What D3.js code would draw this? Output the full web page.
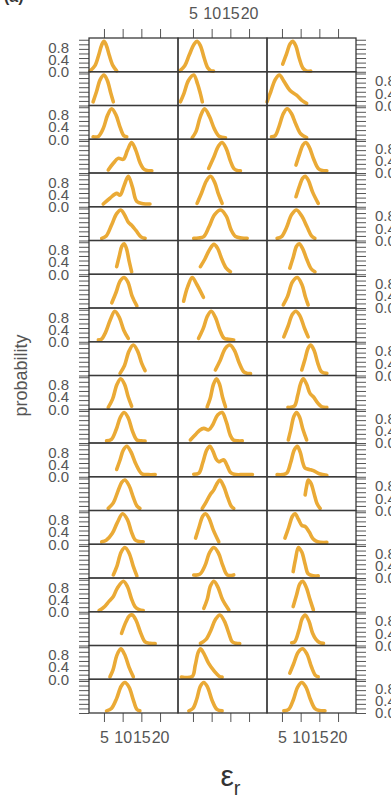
<!DOCTYPE html>
<html><head><meta charset="utf-8">
<script src="https://cdn.jsdelivr.net/npm/d3@7"></script>
<style>body{margin:0;background:#fff}svg{display:block}</style>
</head><body><svg id="c" width="391" height="797"></svg>
<script>
// ---- data ----
const xTicks = [5, 10, 15, 20];
const yTicks = [0, 0.15, 0.3, 0.45, 0.6, 0.75, 0.9, 1.05];
const yLabelTicks = [0, 0.4, 0.8];
const xDomain = [1, 24.8];
const yDomain = [0, 1.107];
const xTitle = "ε";
const xTitleSub = "r";
const yTitle = "probability";
const panelTag = "(a)";

// each entry: one row's density curve, points [epsilon_r, probability]
const col1 = [
 [[1.3,0.03],[2.6,0.2],[3.6,0.55],[4.4,0.88],[5.0,1.0],[5.6,0.88],[6.4,0.55],[7.4,0.2],[8.4,0.03]],
 [[2.1,0.12],[3.0,0.45],[4.0,0.85],[5.0,1.0],[5.9,0.82],[6.8,0.42],[7.5,0.12]],
 [[2.1,0.08],[3.5,0.09],[4.8,0.35],[6.0,0.8],[7.06,1.0],[8.2,0.8],[9.3,0.4],[10.3,0.12],[11.1,0.08]],
 [[6.15,0.1],[7.5,0.32],[8.8,0.48],[10.2,0.45],[11.3,0.75],[12.4,1.0],[13.5,0.75],[14.6,0.35],[15.5,0.15],[16.5,0.08],[17.8,0.07]],
 [[4.8,0.09],[6.6,0.28],[8.4,0.44],[9.3,0.38],[10.4,0.7],[11.5,1.0],[12.6,0.65],[13.8,0.17],[15.5,0.1],[17.3,0.09]],
 [[4.4,0.07],[5.6,0.15],[7.0,0.5],[8.4,0.88],[9.5,1.0],[10.6,0.82],[11.5,0.6],[12.4,0.5],[13.6,0.32],[14.9,0.12],[16.0,0.07]],
 [[8.4,0.25],[9.1,0.6],[9.8,0.92],[10.4,1.0],[11.0,0.85],[11.7,0.45],[12.4,0.08]],
 [[7.1,0.17],[8.2,0.5],[9.4,0.9],[10.4,1.0],[11.4,0.85],[12.5,0.4],[13.8,0.07]],
 [[3.5,0.06],[4.3,0.08],[5.4,0.3],[6.7,0.72],[7.9,1.0],[9.1,0.8],[10.3,0.38],[11.5,0.11]],
 [[9.3,0.07],[10.5,0.33],[11.7,0.8],[12.85,1.0],[14.0,0.8],[15.1,0.4],[16.0,0.16]],
 [[6.15,0.06],[7.3,0.33],[8.5,0.82],[9.5,1.0],[10.5,0.82],[11.5,0.4],[12.4,0.1]],
 [[5.7,0.07],[7.0,0.12],[8.3,0.45],[9.4,0.85],[10.4,1.0],[11.5,0.82],[12.6,0.4],[13.8,0.1],[15.0,0.07],[16.0,0.06]],
 [[8.4,0.24],[9.3,0.55],[10.2,0.88],[11.1,1.0],[12.2,0.82],[13.6,0.4],[15.1,0.1],[16.8,0.07],[18.7,0.07]],
 [[6.15,0.07],[7.5,0.25],[8.7,0.62],[9.8,0.93],[10.6,1.0],[11.7,0.82],[12.8,0.45],[13.8,0.15],[14.6,0.07]],
 [[4.4,0.08],[5.6,0.13],[7.2,0.35],[8.6,0.72],[10.0,1.0],[11.3,0.8],[12.3,0.42],[13.3,0.15],[14.4,0.09],[15.5,0.08]],
 [[7.5,0.1],[8.5,0.4],[9.6,0.85],[10.6,1.0],[11.7,0.82],[12.8,0.4],[13.8,0.07]],
 [[3.7,0.04],[5.0,0.15],[6.4,0.35],[7.5,0.5],[8.6,0.78],[10.2,1.0],[11.3,0.82],[12.3,0.45],[13.3,0.17],[14.4,0.07],[15.5,0.04]],
 [[9.7,0.4],[10.9,0.78],[11.8,0.97],[12.6,1.0],[13.6,0.82],[14.8,0.42],[16.0,0.12],[17.3,0.07],[18.7,0.06]],
 [[6.6,0.08],[7.4,0.3],[8.5,0.8],[9.5,1.0],[10.5,0.82],[11.7,0.4],[12.85,0.08]],
 [[5.7,0.07],[7.0,0.15],[8.4,0.48],[9.6,0.88],[10.6,1.0],[11.7,0.85],[12.8,0.45],[13.8,0.12],[14.6,0.07]]
];
const col2 = [
 [[1.4,0.02],[2.8,0.2],[4.0,0.55],[5.3,0.9],[6.1,1.0],[7.0,0.85],[8.0,0.45],[9.0,0.12],[9.8,0.03],[10.5,0.02]],
 [[1.65,0.12],[2.6,0.4],[3.8,0.82],[5.2,1.0],[6.2,0.72],[7.0,0.38],[7.5,0.12]],
 [[4.8,0.05],[5.8,0.25],[7.0,0.75],[8.1,1.0],[9.4,0.75],[10.7,0.35],[12.0,0.1],[13.7,0.05]],
 [[9.2,0.15],[10.5,0.5],[11.8,0.88],[12.8,1.0],[13.9,0.8],[15.0,0.4],[15.9,0.15],[16.8,0.08],[17.7,0.07]],
 [[6.1,0.11],[7.3,0.45],[8.6,0.85],[9.7,1.0],[10.8,0.8],[11.8,0.42],[12.8,0.11]],
 [[5.2,0.07],[6.5,0.08],[7.9,0.13],[9.3,0.45],[10.8,0.85],[12.4,1.0],[13.9,0.8],[15.2,0.35],[16.4,0.13],[18.0,0.08],[19.5,0.07]],
 [[7.0,0.25],[8.2,0.5],[9.5,0.82],[10.6,0.98],[11.6,0.85],[12.7,0.5],[13.9,0.2],[15.0,0.08]],
 [[2.5,0.22],[3.6,0.7],[4.8,1.0],[6.0,0.78],[7.8,0.35]],
 [[6.5,0.11],[7.7,0.42],[8.9,0.85],[9.9,1.0],[11.0,0.8],[12.2,0.38],[13.3,0.12],[14.5,0.08],[15.9,0.06]],
 [[11.0,0.18],[12.3,0.5],[13.7,0.9],[14.9,1.0],[16.1,0.82],[17.4,0.4],[18.6,0.12],[19.5,0.07],[20.4,0.06]],
 [[8.8,0.08],[9.6,0.35],[10.5,0.82],[11.3,1.0],[12.1,0.82],[12.9,0.4],[13.7,0.08]],
 [[4.3,0.1],[5.7,0.28],[6.8,0.42],[7.9,0.48],[9.2,0.43],[10.3,0.6],[11.6,0.92],[12.8,1.0],[13.9,0.7],[15.0,0.25],[15.8,0.1],[17.0,0.07],[18.2,0.07]],
 [[5.2,0.08],[6.6,0.12],[7.6,0.45],[8.7,0.88],[9.5,1.0],[10.3,0.85],[11.2,0.58],[11.9,0.49],[12.6,0.53],[13.25,0.55],[14.2,0.35],[15.0,0.15],[16.0,0.08],[18.5,0.07],[20.9,0.07]],
 [[7.5,0.07],[8.4,0.25],[9.6,0.52],[10.5,0.66],[11.4,0.88],[12.2,1.0],[13.2,0.8],[14.3,0.42],[15.2,0.15],[15.9,0.07]],
 [[5.7,0.2],[6.6,0.55],[7.6,0.92],[8.35,1.0],[9.3,0.85],[10.4,0.48],[11.9,0.08]],
 [[5.2,0.1],[6.8,0.12],[8.2,0.4],[9.5,0.85],[10.6,1.0],[11.8,0.82],[13.0,0.4],[14.2,0.1],[15.9,0.1]],
 [[7.9,0.11],[8.8,0.4],[9.7,0.85],[10.6,1.0],[11.7,0.8],[12.9,0.4],[14.6,0.06]],
 [[7.0,0.07],[8.5,0.2],[9.8,0.5],[11.0,0.85],[12.2,1.0],[13.4,0.8],[14.6,0.4],[15.5,0.12],[16.5,0.07],[17.5,0.06]],
 [[1.9,0.07],[4.8,0.09],[5.6,0.45],[6.4,0.88],[7.0,1.0],[7.9,0.85],[9.2,0.52],[10.8,0.25],[12.0,0.1],[12.8,0.07]],
 [[3.9,0.07],[5.0,0.15],[6.0,0.45],[7.0,0.88],[7.9,1.0],[8.9,0.85],[10.1,0.42],[11.4,0.12],[12.8,0.07]]
];
const col3 = [
 [[5.2,0.25],[6.2,0.58],[7.2,0.92],[7.9,1.0],[8.7,0.85],[9.6,0.45],[10.6,0.12],[11.5,0.03],[12.7,0.02]],
 [[1.0,0.12],[2.0,0.45],[3.2,0.85],[4.3,1.0],[5.5,0.8],[7.1,0.5],[8.9,0.34],[10.5,0.15],[11.6,0.07]],
 [[2.2,0.08],[3.2,0.12],[4.3,0.45],[5.4,0.85],[6.4,1.0],[7.5,0.85],[8.7,0.5],[10.0,0.18],[11.6,0.05]],
 [[8.75,0.26],[9.7,0.62],[10.6,0.92],[11.4,1.0],[12.3,0.85],[13.5,0.45],[14.7,0.15],[15.8,0.08],[17.0,0.07]],
 [[8.75,0.33],[9.8,0.72],[10.5,0.93],[11.2,1.0],[12.0,0.88],[13.2,0.48],[14.7,0.11]],
 [[3.7,0.07],[4.9,0.13],[6.2,0.42],[7.6,0.85],[8.9,1.0],[10.3,0.8],[11.7,0.45],[12.9,0.15],[13.8,0.07]],
 [[7.1,0.2],[8.0,0.55],[8.9,0.92],[9.6,1.0],[10.5,0.85],[11.6,0.5],[12.8,0.18],[13.8,0.08]],
 [[5.35,0.1],[6.5,0.38],[7.8,0.85],[9.1,1.0],[10.3,0.78],[11.3,0.35],[12.0,0.1]],
 [[5.5,0.16],[6.6,0.5],[7.8,0.9],[8.75,1.0],[9.8,0.85],[11.0,0.45],[12.0,0.16]],
 [[10.3,0.18],[11.2,0.55],[12.0,0.9],[12.7,1.0],[13.6,0.82],[14.6,0.4],[15.6,0.12],[17.0,0.07]],
 [[6.6,0.06],[8.3,0.1],[9.2,0.45],[10.0,0.85],[10.7,1.0],[11.6,0.82],[12.5,0.52],[13.4,0.41],[14.6,0.2],[15.7,0.08],[17.0,0.06]],
 [[6.7,0.1],[7.3,0.4],[8.2,0.88],[8.9,1.0],[9.7,0.85],[10.6,0.45],[11.6,0.1]],
 [[3.7,0.07],[5.2,0.07],[6.3,0.12],[7.3,0.45],[8.3,0.88],[9.1,1.0],[9.9,0.8],[10.6,0.45],[11.2,0.28],[12.3,0.24],[13.4,0.2],[15.0,0.1],[17.0,0.05]],
 [[11.2,0.51],[11.6,0.8],[12.05,1.0],[12.8,0.88],[13.6,0.55],[14.4,0.22],[15.2,0.07]],
 [[5.8,0.2],[6.8,0.55],[7.8,0.92],[8.5,1.0],[9.4,0.82],[10.3,0.62],[11.2,0.58],[12.3,0.4],[13.3,0.18],[14.5,0.08],[17.0,0.06]],
 [[8.0,0.21],[8.6,0.6],[9.4,1.0],[10.3,0.85],[11.2,0.45],[12.0,0.14],[13.3,0.07],[14.7,0.07]],
 [[8.0,0.17],[8.9,0.55],[9.8,0.92],[10.55,1.0],[11.5,0.8],[12.5,0.4],[13.4,0.06]],
 [[7.6,0.09],[8.4,0.12],[9.5,0.48],[10.4,0.88],[11.2,1.0],[12.2,0.8],[13.2,0.4],[14.1,0.2],[15.0,0.1],[16.1,0.07]],
 [[7.1,0.2],[8.1,0.5],[9.4,0.9],[10.55,1.0],[11.7,0.82],[12.9,0.4],[14.0,0.12],[14.7,0.08]],
 [[5.5,0.07],[6.8,0.12],[8.0,0.42],[9.2,0.85],[10.3,1.0],[11.4,0.85],[12.6,0.45],[13.8,0.15],[15.0,0.08],[16.5,0.07]]
];
const columns = [col1, col2, col3];

// ---- layout ----
const plotLeft = 89, plotTop = 38, panelW = 89, panelH = 33.75;
const nRows = col1.length, nCols = columns.length;
const lineCol = "#3a3a3a", tickCol = "#555", textCol = "#555";
const curveCol = "#EAAA36";
const font = "'Liberation Sans', Arial, sans-serif";

const svg = d3.select("#c");
const x = d3.scaleLinear().domain(xDomain).range([0, panelW]);
const y = d3.scaleLinear().domain(yDomain).range([panelH, 0]);
const line = d3.line().x(d => x(d[0])).y(d => y(d[1])).curve(d3.curveCatmullRom.alpha(0.5));

function styleAxis(g, fs) {
  g.select(".domain").remove();
  g.selectAll(".tick line").attr("stroke", tickCol).attr("stroke-width", 1);
  g.selectAll(".tick text").attr("fill", textCol).style("font-family", font).style("font-size", fs + "px");
}
const blank = () => "";
const yFmt = d3.format(".1f");

for (let c = 0; c < nCols; c++) {
  const px = plotLeft + c * panelW;
  const gt = svg.append("g").attr("transform", `translate(${px},${plotTop})`)
    .call(d3.axisTop(x).tickValues(xTicks).tickSize(9).tickPadding(10)
      .tickFormat(c === 1 ? d3.format("d") : blank));
  styleAxis(gt, 16);
  const gb = svg.append("g").attr("transform", `translate(${px},${plotTop + nRows * panelH})`)
    .call(d3.axisBottom(x).tickValues(xTicks).tickSize(9).tickPadding(10)
      .tickFormat(c !== 1 ? d3.format("d") : blank));
  styleAxis(gb, 16);
}

for (let r = 0; r < nRows; r++) {
  const py = plotTop + r * panelH;
  // tick marks
  const gl = svg.append("g").attr("transform", `translate(${plotLeft},${py})`)
    .call(d3.axisLeft(y).tickValues(yTicks).tickSize(10).tickFormat(blank));
  styleAxis(gl, 15);
  const gr = svg.append("g").attr("transform", `translate(${plotLeft + nCols * panelW},${py})`)
    .call(d3.axisRight(y).tickValues(yTicks).tickSize(10).tickFormat(blank));
  styleAxis(gr, 15);
  // labels, alternating sides
  if (r % 2 === 0) {
    const ll = svg.append("g").attr("transform", `translate(${plotLeft},${py})`)
      .call(d3.axisLeft(y).tickValues(yLabelTicks).tickSize(0).tickPadding(20).tickFormat(yFmt));
    ll.selectAll(".tick line").remove();
    styleAxis(ll, 15);
  } else {
    const rl = svg.append("g").attr("transform", `translate(${plotLeft + nCols * panelW},${py})`)
      .call(d3.axisRight(y).tickValues(yLabelTicks).tickSize(0).tickPadding(19).tickFormat(yFmt));
    rl.selectAll(".tick line").remove();
    styleAxis(rl, 15);
  }
}

// curves
for (let c = 0; c < nCols; c++) {
  columns[c].forEach((pts, r) => {
    svg.append("path")
      .attr("transform", `translate(${plotLeft + c * panelW},${plotTop + r * panelH})`)
      .attr("d", line(pts))
      .attr("fill", "none").attr("stroke", curveCol).attr("stroke-width", 3.6)
      .attr("stroke-linecap", "round").attr("stroke-linejoin", "round");
  });
}

// panel borders
for (let c = 0; c < nCols; c++) {
  for (let r = 0; r < nRows; r++) {
    svg.append("rect")
      .attr("x", plotLeft + c * panelW).attr("y", plotTop + r * panelH)
      .attr("width", panelW).attr("height", panelH)
      .attr("fill", "none").attr("stroke", lineCol).attr("stroke-width", 1.3);
  }
}

// titles
svg.append("text").attr("transform", `translate(27,${plotTop + nRows * panelH / 2}) rotate(-90)`)
  .attr("text-anchor", "middle").attr("fill", textCol)
  .style("font-family", font).style("font-size", "18px").text(yTitle);
const xt = svg.append("text").attr("x", plotLeft + nCols * panelW / 2 + 8).attr("y", 786)
  .attr("text-anchor", "middle").attr("fill", "#333")
  .style("font-family", font).style("font-size", "30px");
xt.append("tspan").text(xTitle);
xt.append("tspan").attr("dy", 9).style("font-size", "20px").text(xTitleSub);
svg.append("text").attr("x", 4).attr("y", 1.5).attr("fill", "#333")
  .style("font-family", font).style("font-size", "16px").style("font-weight", "bold").text(panelTag);
</script></body></html>
